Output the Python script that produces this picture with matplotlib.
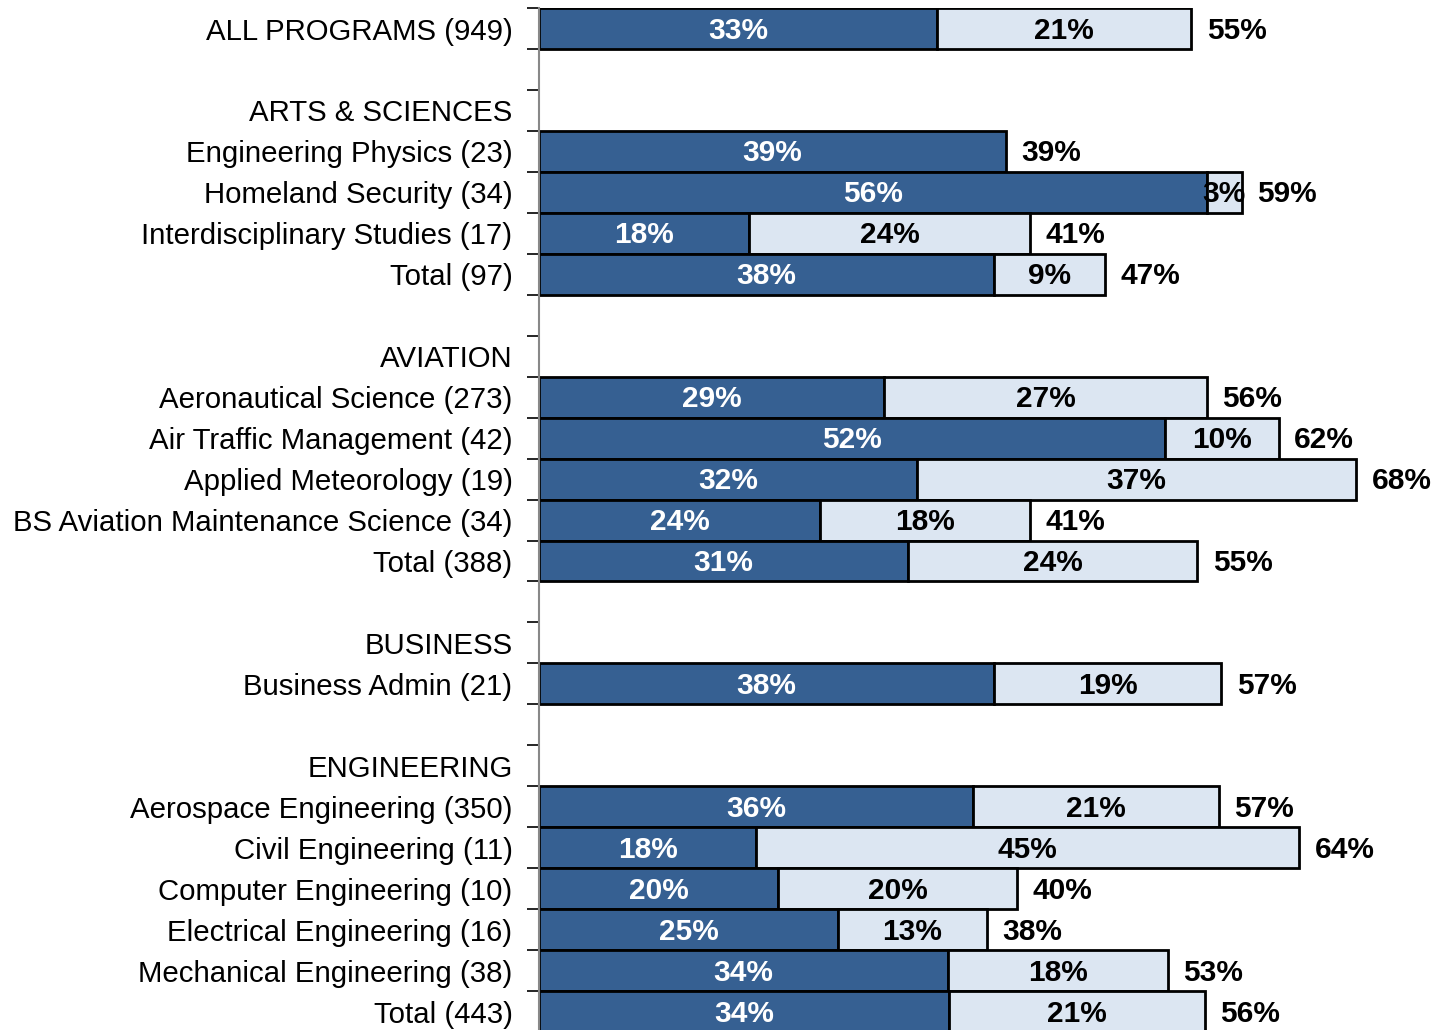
import numpy as np
import matplotlib
matplotlib.use("Agg")
import matplotlib.pyplot as plt

plt.rcParams['font.family'] = ['Liberation Sans', 'DejaVu Sans']

# Rows from top to bottom ("" = spacer, header rows have no bars)
labels = [
    "ALL PROGRAMS (949)", "",
    "ARTS & SCIENCES", "Engineering Physics (23)", "Homeland Security (34)",
    "Interdisciplinary Studies (17)", "Total (97)", "",
    "AVIATION", "Aeronautical Science (273)", "Air Traffic Management (42)",
    "Applied Meteorology (19)", "BS Aviation Maintenance Science (34)", "Total (388)", "",
    "BUSINESS", "Business Admin (21)", "",
    "ENGINEERING", "Aerospace Engineering (350)", "Civil Engineering (11)",
    "Computer Engineering (10)", "Electrical Engineering (16)",
    "Mechanical Engineering (38)", "Total (443)",
]
# percent values, None = no bar
dark = [33.3, None,
        None, 39.1, 55.9, 17.6, 38.1, None,
        None, 28.9, 52.4, 31.6, 23.5, 30.9, None,
        None, 38.1, None,
        None, 36.3, 18.2, 20.0, 25.0, 34.2, 34.3]
light = [21.3, None,
         None, 0.0, 2.9, 23.5, 9.3, None,
         None, 27.0, 9.5, 36.8, 17.6, 24.2, None,
         None, 19.0, None,
         None, 20.6, 45.4, 20.0, 12.5, 18.4, 21.4]

dark_col = "#366092"
light_col = "#DCE6F2"
fs = 21.5

def pct(v):
    return f"{int(np.floor(v + 0.5))}%"

fig = plt.figure(figsize=(14.37, 10.30), dpi=100)
ax = fig.add_axes([539 / 1437, -0.002, 1 - 539 / 1437, 0.9942])

n = len(labels)
y = np.arange(n)
for i in range(n):
    if dark[i] is None:
        continue
    d, l = dark[i], light[i]
    ax.barh(i, d, height=1.0, color=dark_col, edgecolor="black", linewidth=2)
    ax.text(d / 2, i + 0.05, pct(d), ha="center", va="center", color="white",
            fontsize=fs, fontweight="bold")
    if l > 0:
        ax.barh(i, l, left=d, height=1.0, color=light_col, edgecolor="black", linewidth=2)
        ax.text(d + l / 2, i + 0.05, pct(l), ha="center", va="center", color="black",
                fontsize=fs, fontweight="bold")
    ax.text(d + l + 1.3, i + 0.05, pct(d + l), ha="left", va="center", color="black",
            fontsize=fs, fontweight="bold")

ax.set_ylim(n - 0.5, -0.5)
ax.set_xlim(0, (1437 - 539) / 11.95)

ax.set_yticks(y)
ax.set_yticklabels(labels, fontsize=21.2)
ax.tick_params(axis="y", which="major", length=0, pad=19)
ax.set_yticks(np.arange(n + 1) - 0.5, minor=True)
ax.tick_params(axis="y", which="minor", length=9, width=1.2, color="black")

ax.set_xticks([])
for s in ["top", "right", "bottom"]:
    ax.spines[s].set_visible(False)
ax.spines["left"].set_color("#888888")
ax.spines["left"].set_linewidth(1.5)

fig.savefig("out.png", dpi=100)
